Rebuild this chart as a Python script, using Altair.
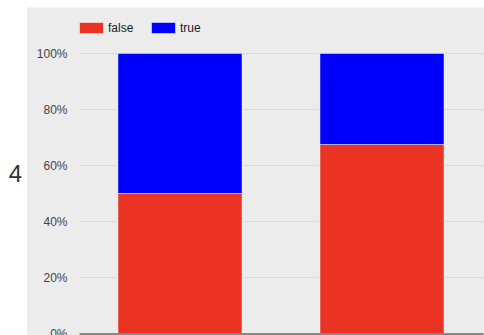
import altair as alt
import pandas as pd

# Two groups, each split into false / true shares (percent)
groups = ["1", "2"]
false_share = [50.0, 67.5]
true_share = [50.0, 32.5]
series = ["false", "true"]
series_colors = ["#ea3323", "#0000ff"]
tick_values = [0.2, 0.4, 0.6, 0.8, 1.0]

rows = []
for g, f, t in zip(groups, false_share, true_share):
    rows.append({"group": g, "flag": "false", "share": f})
    rows.append({"group": g, "flag": "true", "share": t})
df = pd.DataFrame(rows)

FONT = "Liberation Sans, Arial, Helvetica, sans-serif"
W, H = 404, 280

y_axis = alt.Axis(
    values=[0, 0.2, 0.4, 0.6, 0.8, 1.0], format=".0%", grid=False,
    ticks=False, domain=False, labelPadding=12, labelFontSize=12,
    labelColor="#444444", labelFont=FONT, zindex=1,
    title="4", titleAngle=0, titleFontSize=24, titleFontWeight="normal",
    titleColor="#333333", titleFont=FONT, titleAlign="center",
    titleBaseline="alphabetic", titleX=-64, titleY=127.5,
)

# light-grey panel behind the legend, the axis labels and the plot
panel = alt.Chart(pd.DataFrame({"p": [0]})).mark_rect(color="#ececec").encode(
    x=alt.value(-52), x2=alt.value(W + 20),
    y=alt.value(-46), y2=alt.value(H + 40),
)

grid = alt.Chart(pd.DataFrame({"tick": tick_values})).mark_rule(
    color="#d9d9d9", strokeWidth=1
).encode(y=alt.Y("tick:Q", axis=y_axis, scale=alt.Scale(domain=[0, 1])))

bars = alt.Chart(df).mark_bar(
    stroke="white", strokeOpacity=0.45, strokeWidth=1
).encode(
    x=alt.X(
        "group:N",
        scale=alt.Scale(paddingInner=0.386, paddingOuter=0.193),
        axis=alt.Axis(labels=False, ticks=False, title=None, domain=True,
                      domainColor="#888888", domainWidth=2, zindex=1),
    ),
    y=alt.Y(
        "share:Q",
        stack="normalize",
        scale=alt.Scale(domain=[0, 1]),
        axis=y_axis,
    ),
    color=alt.Color(
        "flag:N",
        scale=alt.Scale(domain=series, range=series_colors),
        legend=alt.Legend(
            title=None, orient="none", legendX=0, legendY=-38,
            direction="horizontal",
            symbolType="M-1,-0.4583H1V0.4583H-1Z", symbolSize=576,
            symbolStrokeColor="white", symbolStrokeWidth=0.5,
            symbolOpacity=1,
            labelFontSize=12, labelFont=FONT, labelColor="#222222",
            labelOffset=4, columnPadding=16,
        ),
    ),
    order=alt.Order("flag:N", sort="ascending"),
)

chart = alt.layer(panel, grid, bars).properties(
    width=W, height=H,
    autosize=alt.AutoSizeParams(type="none"),
    padding={"left": 79, "top": 53.5, "right": 1, "bottom": 40},
    background="white",
).configure_view(stroke=None)

chart.save("out.html", embed_options={"renderer": "svg", "actions": False})
